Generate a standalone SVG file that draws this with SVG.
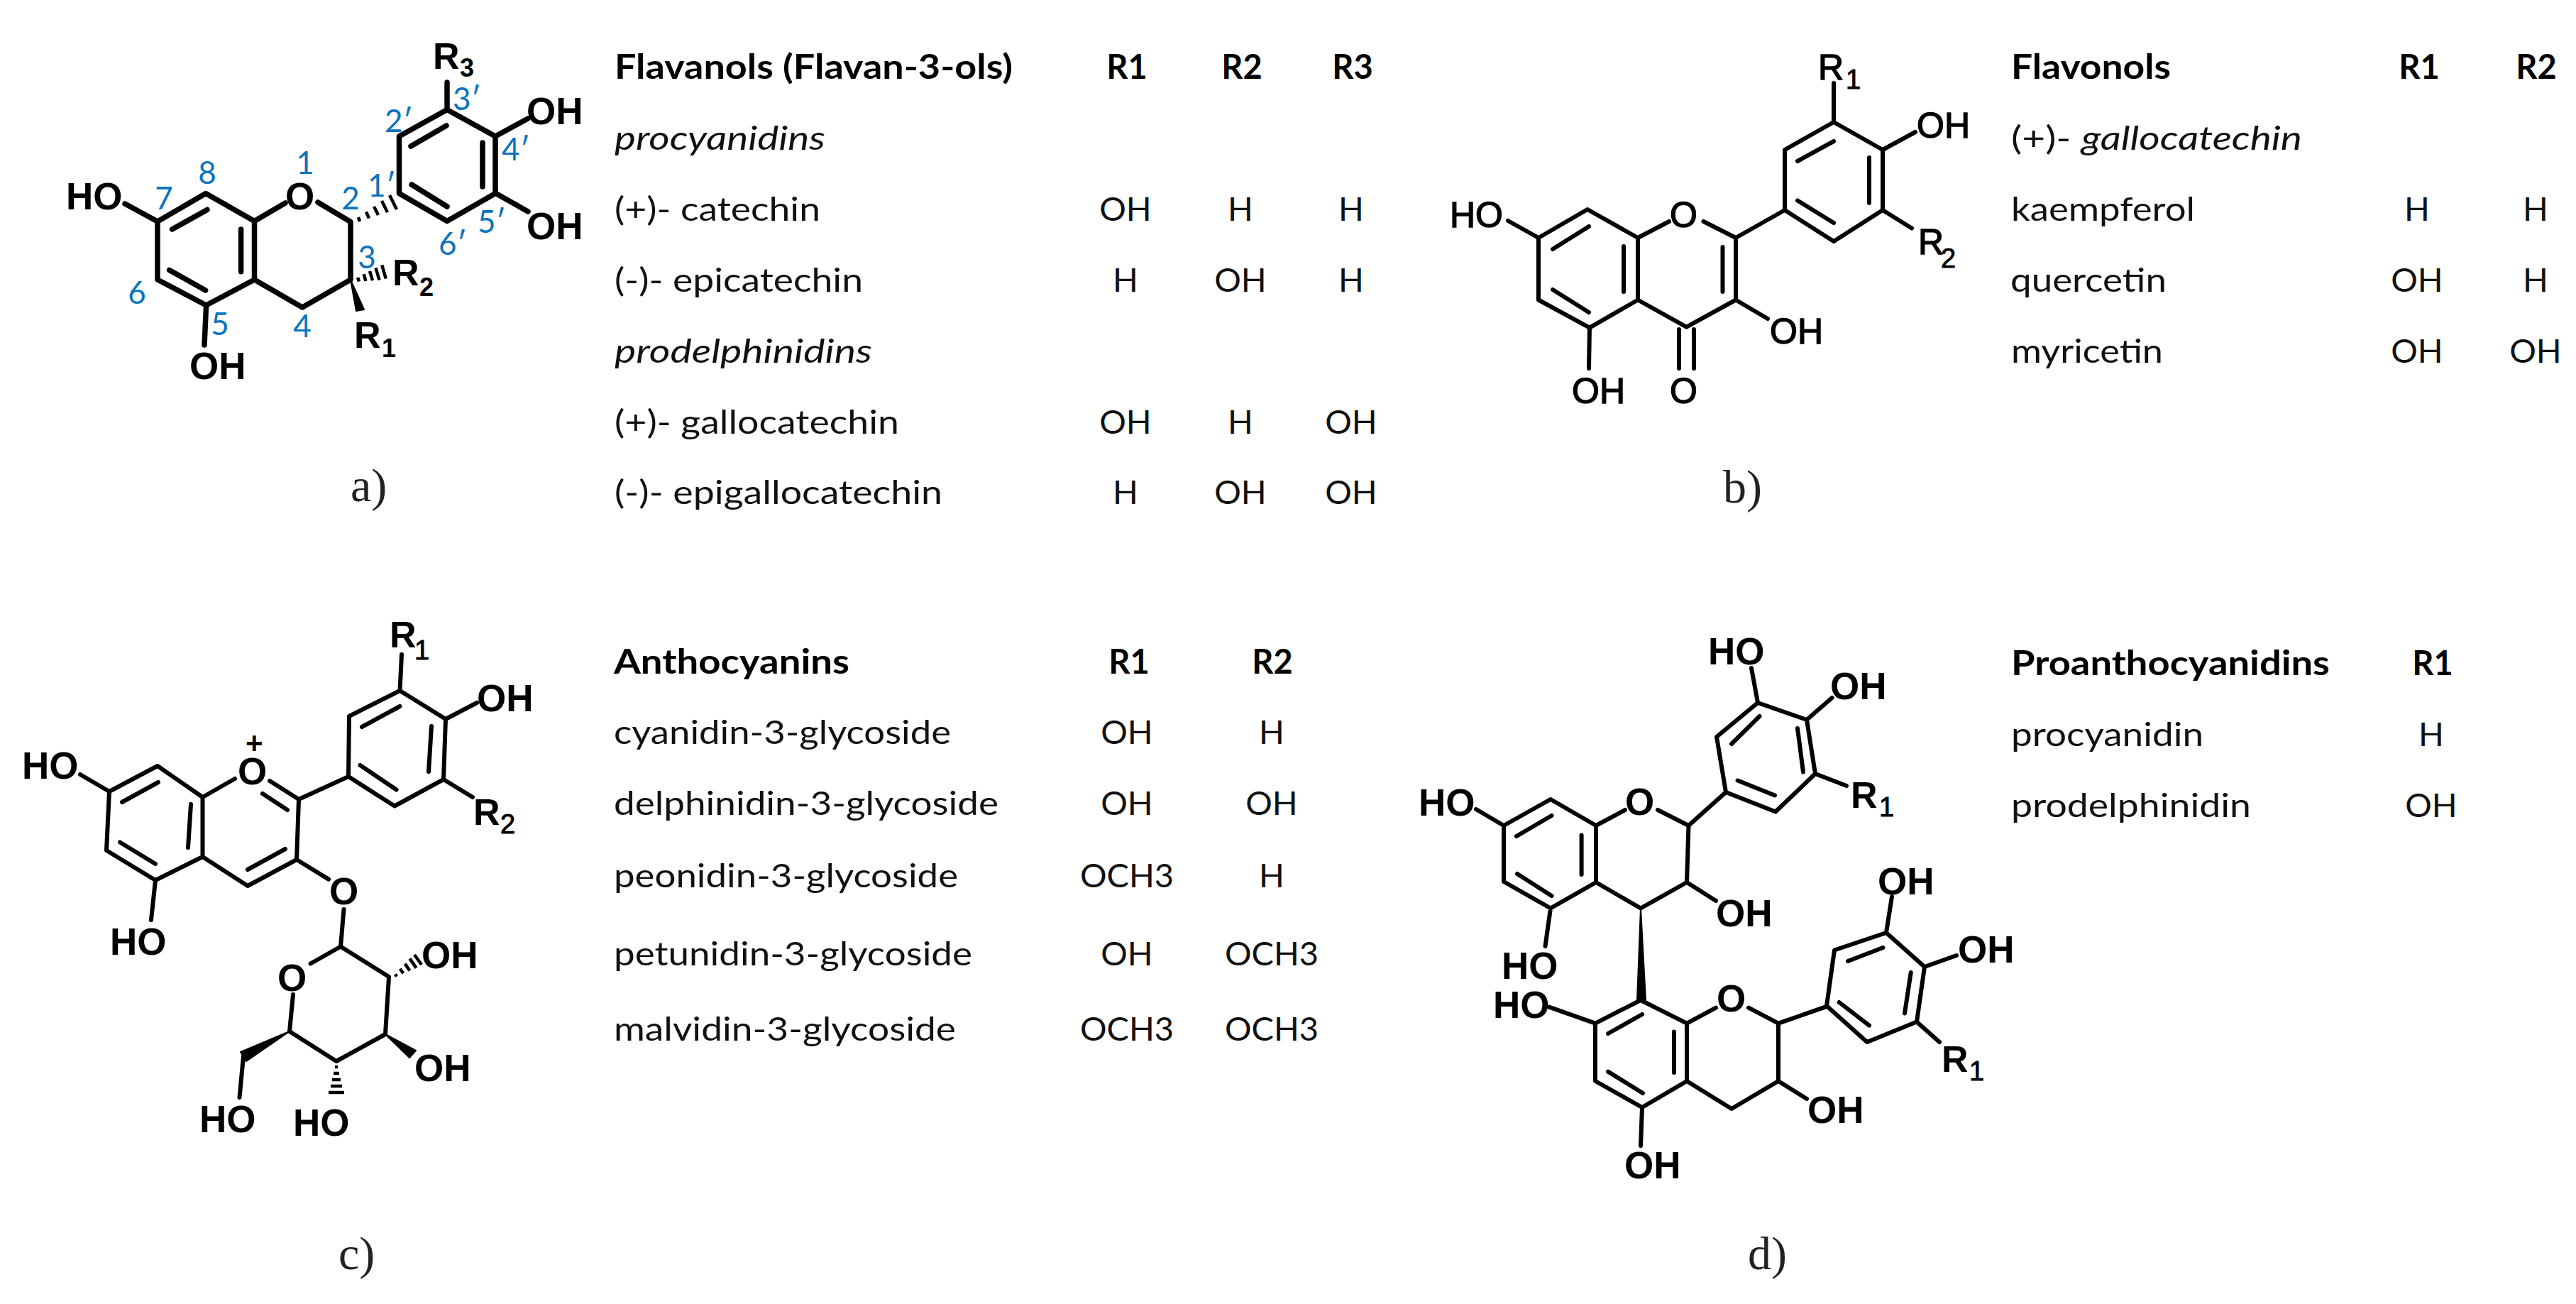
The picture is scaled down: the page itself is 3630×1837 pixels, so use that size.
<svg xmlns="http://www.w3.org/2000/svg" width="3630" height="1837" viewBox="0 0 3630 1837">
<style>
.b{fill:none;stroke:#000;stroke-width:7.5;stroke-linecap:round;stroke-linejoin:round}
.t{stroke-width:6}
.h{fill:none;stroke:#000;stroke-width:4.5}
.w{fill:#000;stroke:#000;stroke-width:2;stroke-linejoin:round}
text{font-family:"Liberation Sans",Arial,sans-serif;fill:#000}
.a{font-size:53px;font-weight:bold}
.r{font-size:52px;font-weight:bold}
.n{font-size:50px;stroke:#000;stroke-width:1.4}
.s{font-size:36px;font-weight:bold}
.p{font-size:42px;font-weight:bold}
.sn{font-size:38px;stroke:#000;stroke-width:.9}
.d{font-family:Lato,"Liberation Sans",sans-serif;font-size:44px;fill:#0a74bc;text-anchor:middle}
.l{font-family:"Liberation Serif","Times New Roman",serif;font-size:66px;fill:#222}
.c{font-family:Lato,"Liberation Sans",sans-serif;font-size:47px;fill:#111}
.m{text-anchor:middle}
.hd{font-weight:bold;fill:#000}
.i{font-style:italic}
</style>

<g id="structure-a">
<path class="b" d="M222 312L290 272.5L358.5 311.6L358.5 394L290.6 430L222 394ZM358.5 394L426 433L494 394L494 312.5L448 285M358.5 311.6L402 286M242.6 323L292 295.5M339.6 323V382.7M238.6 380.4L289.6 409M176 287L222 312M290.6 430L288 486"/>
<path class="b" d="M562.5 272.5V192L630 154.5L698 192V272.5L630 311.5ZM579 206L629 177M680 201V263M580 260L630 291M630 154.5V116M698 192L744 167M698 272L744 298"/>
<path class="h" d="M505 306L507 312M516 298.5L520 307.5M527 291L533 303M538 283L546 299M549 275L559 295M504 391L506 396.5M512.6 386.2L515.4 395.8M521 381.8L525 395.2M529.5 377.4L534.5 394.6M538.2 373.4L543.8 392.6"/>
<polygon class="w" points="494,394 502,438 513,436"/>
<text class="a" x="93" y="295">HO</text>
<text class="a" x="402" y="295">O</text>
<text class="a" x="267" y="534">OH</text>
<text class="a" x="742" y="175">OH</text>
<text class="a" x="742" y="337">OH</text>
<text class="r" x="610" y="97">R</text><text class="s" x="648" y="108">3</text>
<text class="r" x="553" y="402">R</text><text class="s" x="591" y="417">2</text>
<text class="r" x="499" y="490">R</text><text class="s" x="538" y="503">1</text>
<text class="d" x="430" y="245">1</text>
<text class="d" x="292" y="259">8</text>
<text class="d" x="231" y="295">7</text>
<text class="d" x="494" y="295">2</text>
<text class="d" x="538" y="277">1′</text>
<text class="d" x="562" y="186">2′</text>
<text class="d" x="658" y="155">3′</text>
<text class="d" x="727" y="226">4′</text>
<text class="d" x="693" y="328">5′</text>
<text class="d" x="638" y="359">6′</text>
<text class="d" x="517" y="378">3</text>
<text class="d" x="310" y="472">5</text>
<text class="d" x="426" y="475">4</text>
<text class="d" x="193" y="428">6</text>
<text class="l" x="494" y="706">a)</text>
<text class="c hd" x="866" y="111" textLength="561" lengthAdjust="spacingAndGlyphs">Flavanols (Flavan-3-ols)</text>
<text class="c i" x="866" y="211" textLength="297" lengthAdjust="spacingAndGlyphs">procyanidins</text>
<text class="c" x="866" y="311" textLength="290" lengthAdjust="spacingAndGlyphs">(+)- catechin</text>
<text class="c" x="866" y="411" textLength="350" lengthAdjust="spacingAndGlyphs">(-)- epicatechin</text>
<text class="c i" x="866" y="511" textLength="363" lengthAdjust="spacingAndGlyphs">prodelphinidins</text>
<text class="c" x="866" y="611" textLength="401" lengthAdjust="spacingAndGlyphs">(+)- gallocatechin</text>
<text class="c" x="866" y="710" textLength="462" lengthAdjust="spacingAndGlyphs">(-)- epigallocatechin</text>
<text class="c hd m" x="1588" y="111">R1</text><text class="c hd m" x="1750" y="111">R2</text><text class="c hd m" x="1906" y="111">R3</text>
<text class="c m" x="1586" y="311">OH</text><text class="c m" x="1748" y="311">H</text><text class="c m" x="1904" y="311">H</text>
<text class="c m" x="1586" y="411">H</text><text class="c m" x="1748" y="411">OH</text><text class="c m" x="1904" y="411">H</text>
<text class="c m" x="1586" y="611">OH</text><text class="c m" x="1748" y="611">H</text><text class="c m" x="1904" y="611">OH</text>
<text class="c m" x="1586" y="710">H</text><text class="c m" x="1748" y="710">OH</text><text class="c m" x="1904" y="710">OH</text>
</g>

<g id="structure-b">
<path class="b t" d="M2168 335L2237 295L2308 335L2308 422.5L2240 461.6L2168 422.5ZM2308 422.5L2376.5 460.7L2446 422.5V335L2400.5 312M2308 335L2352 312M2188 351L2239 319M2288 347V411M2427.5 348V411M2188 408L2239 440M2125 311L2168 335M2240 461.6L2239 519M2366 464V519M2387 464V519M2446 422.5L2491 449M2446 335L2515 296"/>
<path class="b t" d="M2515 296V211L2584 172L2653 211V296L2584 340ZM2533 227L2584 199M2634 222V286M2533 282.5L2584 314M2584 172V117M2653 211L2699 186M2653 296L2694 321.5"/>
<text class="n" x="2043" y="320">HO</text>
<text class="n" x="2215" y="568">OH</text>
<text class="n" x="2353" y="568">O</text>
<text class="n" x="2494" y="484">OH</text>
<text class="n" x="2353" y="320">O</text>
<text class="n" x="2701" y="194">OH</text>
<text class="n" x="2562" y="112">R</text><text class="sn" x="2601" y="125">1</text>
<text class="n" x="2703" y="358">R</text><text class="sn" x="2735" y="377">2</text>
<text class="l" x="2428" y="708">b)</text>
<text class="c hd" x="2834" y="111" textLength="225" lengthAdjust="spacingAndGlyphs">Flavonols</text>
<text class="c" x="2834" y="211" textLength="410" lengthAdjust="spacingAndGlyphs">(+)- <tspan class="i">gallocatechin</tspan></text>
<text class="c" x="2834" y="311" textLength="259" lengthAdjust="spacingAndGlyphs">kaempferol</text>
<text class="c" x="2833" y="411" textLength="220" lengthAdjust="spacingAndGlyphs">quercetin</text>
<text class="c" x="2834" y="511" textLength="214" lengthAdjust="spacingAndGlyphs">myricetin</text>
<text class="c hd m" x="3409" y="111">R1</text><text class="c hd m" x="3574" y="111">R2</text>
<text class="c m" x="3406" y="311">H</text><text class="c m" x="3573" y="311">H</text>
<text class="c m" x="3406" y="411">OH</text><text class="c m" x="3573" y="411">H</text>
<text class="c m" x="3406" y="511">OH</text><text class="c m" x="3573" y="511">OH</text>
</g>

<g id="structure-c">
<path class="b t" d="M154 1115L222 1079L285.5 1123V1207L219 1240L150 1198ZM285.5 1207L349 1248L418 1211L421 1126L380 1100M285.5 1123L331 1097M172 1130L223 1102M269 1133L265 1194M370 1118L405 1141M402 1196L349 1225M169 1186.5L219 1217M113 1091L154 1115M219 1240L213 1296M418 1211L463 1238.6M421 1126L491 1094"/>
<path class="b t" d="M491 1094L492 1009L563.5 973L628 1013L625 1098L556 1135.5ZM510 1024L563.5 995M608 1023L604 1087M507.5 1078L558.5 1112.5M563.5 973L566 922M628 1013L672 990M625 1098L666 1123"/>
<path class="b t" d="M484.5 1281L480 1333.5L437.6 1357.5M480 1333.5L548 1376L543 1457L474 1495L408 1453L413 1401M343 1488L337.5 1546"/>
<path class="h" d="M556.9 1372.4L559.1 1375.6M563.7 1364.7L568.3 1371.3M570.6 1357.6L577.4 1367.4M577.4 1350.4L586.6 1363.6M584 1345L594 1359M472 1503H476M470 1512H478M468 1521H480M466 1530H482M463 1539H485"/>
<polygon class="w" points="543,1457 577,1490 586,1480"/>
<polygon class="w" points="408,1453 339,1482 347,1495"/>
<text class="a" x="31" y="1097">HO</text>
<text class="a" x="335" y="1105">O</text>
<text class="p" x="346" y="1061">+</text>
<text class="a" x="155" y="1345">HO</text>
<text class="a" x="464" y="1274">O</text>
<text class="a" x="391" y="1396">O</text>
<text class="a" x="672" y="1002">OH</text>
<text class="r" x="549" y="912">R</text><text class="sn" x="584" y="929">1</text>
<text class="r" x="667" y="1162">R</text><text class="sn" x="705" y="1174">2</text>
<text class="a" x="594" y="1364">OH</text>
<text class="a" x="584" y="1523">OH</text>
<text class="a" x="413" y="1600">HO</text>
<text class="a" x="281" y="1595">HO</text>
<text class="l" x="477" y="1788">c)</text>
<text class="c hd" x="865" y="949" textLength="332" lengthAdjust="spacingAndGlyphs">Anthocyanins</text>
<text class="c" x="865" y="1048" textLength="475" lengthAdjust="spacingAndGlyphs">cyanidin-3-glycoside</text>
<text class="c" x="865" y="1148" textLength="542" lengthAdjust="spacingAndGlyphs">delphinidin-3-glycoside</text>
<text class="c" x="865" y="1250" textLength="485" lengthAdjust="spacingAndGlyphs">peonidin-3-glycoside</text>
<text class="c" x="865" y="1360" textLength="505" lengthAdjust="spacingAndGlyphs">petunidin-3-glycoside</text>
<text class="c" x="865" y="1466" textLength="482" lengthAdjust="spacingAndGlyphs">malvidin-3-glycoside</text>
<text class="c hd m" x="1591" y="949">R1</text><text class="c hd m" x="1793" y="949">R2</text>
<text class="c m" x="1588" y="1048">OH</text><text class="c m" x="1792" y="1048">H</text>
<text class="c m" x="1588" y="1148">OH</text><text class="c m" x="1792" y="1148">OH</text>
<text class="c m" x="1588" y="1250">OCH3</text><text class="c m" x="1792" y="1250">H</text>
<text class="c m" x="1588" y="1360">OH</text><text class="c m" x="1792" y="1360">OCH3</text>
<text class="c m" x="1588" y="1466">OCH3</text><text class="c m" x="1792" y="1466">OCH3</text>
</g>

<g id="structure-d">
<path class="b t" d="M2119 1163L2185 1126L2249 1163V1243L2185 1279.5L2119 1242ZM2249 1243L2312 1279.5L2377 1243L2379.5 1163L2336 1141M2249 1163L2290 1141M2137 1178L2186.5 1149M2228.6 1176.4V1232M2138 1231L2186.5 1262M2080 1140L2119 1163M2379.5 1163L2432 1116M2377 1243L2418 1269M2185 1279.5L2177.5 1333"/>
<path class="b t" d="M2432 1116L2419 1038L2477 990L2546 1014L2558 1090L2502 1143.5ZM2440 1048L2479.5 1009M2533 1026L2541 1087.5M2448.6 1099.5L2501 1120.5M2477 990L2468 941M2546 1014L2581.6 983M2558 1090L2602 1107"/>
<polygon class="w" points="2312,1279.5 2307,1409 2319,1409"/>
<path class="b t" d="M2248 1441.6L2312 1409L2377 1441.6V1523L2314 1560L2248 1523ZM2377 1523L2440 1562L2506 1523V1441.6L2464 1419.6M2377 1441.6L2418 1419.6M2266 1456L2314 1429M2359 1453.6V1511M2266 1509.6L2315 1540M2183 1418.6L2248 1441.6M2506 1441.6L2572 1418.6M2506 1523L2546 1548M2314 1560L2312 1614"/>
<path class="b t" d="M2574 1417L2585 1338.5L2658 1314L2712 1362L2701 1439.5L2631 1468ZM2604 1354L2653.4 1335M2692.7 1370L2684 1427.5M2591.7 1412L2634 1444.7M2658 1314L2666 1263M2712 1362L2757 1346M2701 1439.5L2733 1468"/>
<text class="a" x="1999" y="1149">HO</text>
<text class="a" x="2290" y="1148">O</text>
<text class="a" x="2407" y="936">HO</text>
<text class="a" x="2579" y="985">OH</text>
<text class="r" x="2608" y="1138">R</text><text class="sn" x="2648" y="1150">1</text>
<text class="a" x="2418" y="1305">OH</text>
<text class="a" x="2116" y="1379">HO</text>
<text class="a" x="2104" y="1434">HO</text>
<text class="a" x="2419" y="1425">O</text>
<text class="a" x="2646" y="1260">OH</text>
<text class="a" x="2759" y="1356">OH</text>
<text class="r" x="2736" y="1510">R</text><text class="sn" x="2775" y="1522">1</text>
<text class="a" x="2547" y="1582">OH</text>
<text class="a" x="2289" y="1660">OH</text>
<text class="l" x="2463" y="1788">d)</text>
<text class="c hd" x="2834" y="951" textLength="449" lengthAdjust="spacingAndGlyphs">Proanthocyanidins</text>
<text class="c" x="2834" y="1051" textLength="271" lengthAdjust="spacingAndGlyphs">procyanidin</text>
<text class="c" x="2834" y="1151" textLength="338" lengthAdjust="spacingAndGlyphs">prodelphinidin</text>
<text class="c hd m" x="3428" y="951">R1</text>
<text class="c m" x="3426" y="1051">H</text>
<text class="c m" x="3426" y="1151">OH</text>
</g>
</svg>
